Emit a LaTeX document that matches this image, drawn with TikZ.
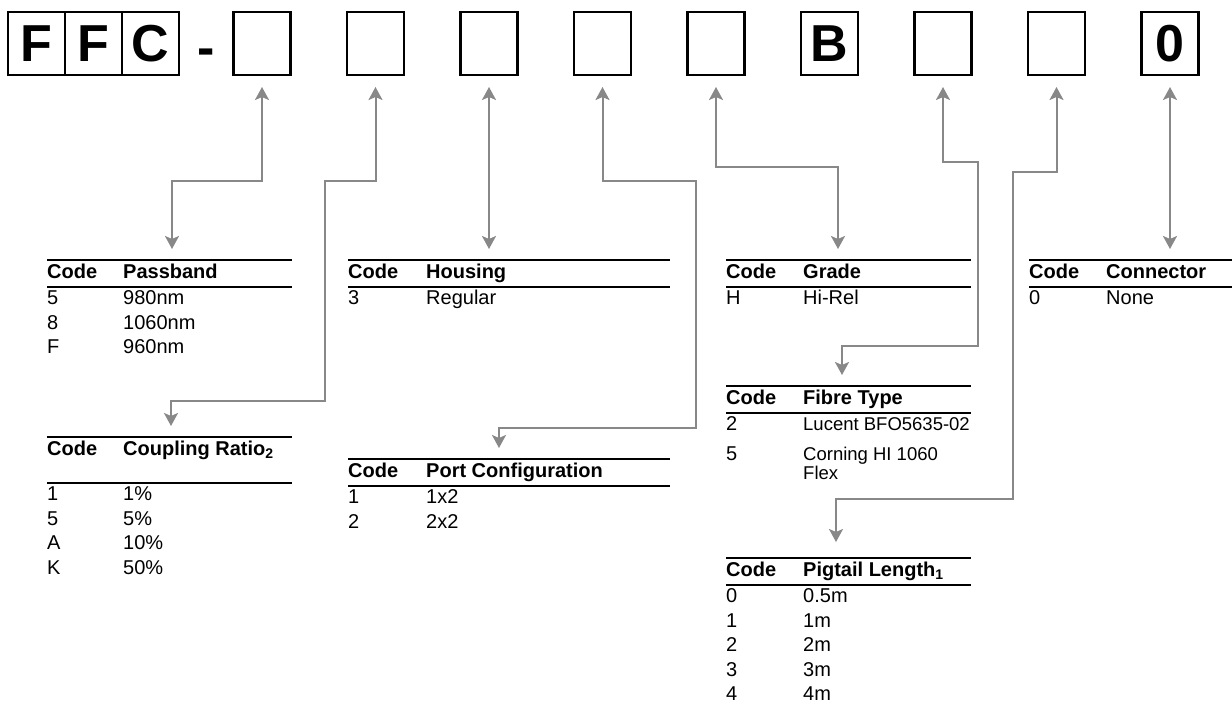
\documentclass[tikz,border=0pt]{standalone}
\usepackage{fontspec}
\setmainfont{Liberation Sans}
\usetikzlibrary{positioning,arrows.meta}
\definecolor{linkgray}{RGB}{136,136,136}
\setlength{\tabcolsep}{0pt}
\newcommand{\tabrule}{\noalign{\hrule height 2pt}}
\begin{document}
\begin{tikzpicture}[x=1pt,y=-1pt]
  \tikzstyle{codebox}=[draw,line width=2.5pt,outer sep=0pt,inner sep=0pt,minimum width=57pt,minimum height=63pt,font=\bfseries\fontsize{52}{52}\selectfont]
  \tikzstyle{codetab}=[anchor=north west,inner sep=0pt,font=\fontsize{20}{24.5}\selectfont]
  \tikzstyle{link}=[draw=linkgray,line width=2pt,>={Stealth[length=13pt,width=14pt,inset=3pt]},<->]
  \useasboundingbox (0,0) rectangle (1232,702);
  \node[codebox] (f1) at (36.5,43.5) {F};
  \node[codebox,right=0pt of f1] (f2) {F};
  \node[codebox,right=0pt of f2] (f3) {C};
  \node[font=\bfseries\fontsize{52}{52}\selectfont] (dash) at (206,57) {-};
  \node[codebox] (b1) at (262,43.5) {};
  \node[codebox,right=56.5pt of b1] (b2) {};
  \node[codebox,right=56.5pt of b2] (b3) {};
  \node[codebox,right=56.5pt of b3] (b4) {};
  \node[codebox,right=56.5pt of b4] (b5) {};
  \node[codebox,right=56.5pt of b5] (b6) {B};
  \node[codebox,right=56.5pt of b6] (b7) {};
  \node[codebox,right=56.5pt of b7] (b8) {};
  \node[codebox,right=56.5pt of b8] (b0) {0};

  \node[codetab] (pass) at (47,259) {\begin{tabular}{p{76pt}p{169pt}}\tabrule
    \textbf{Code} & \textbf{Passband}\\ \tabrule
    5 & 980nm\\
    8 & 1060nm\\
    F & 960nm
  \end{tabular}};
  \node[codetab] (coup) at (47,436) {\begin{tabular}{p{76pt}p{169pt}}\tabrule
    \textbf{Code} & \textbf{Coupling Ratio\textsubscript{2}}\\[19pt] \tabrule
    1 & 1\%\\
    5 & 5\%\\
    A & 10\%\\
    K & 50\%
  \end{tabular}};
  \node[codetab] (hou) at (348,259) {\begin{tabular}{p{78pt}p{244pt}}\tabrule
    \textbf{Code} & \textbf{Housing}\\ \tabrule
    3 & Regular
  \end{tabular}};
  \node[codetab] (port) at (348,458) {\begin{tabular}{p{78pt}p{244pt}}\tabrule
    \textbf{Code} & \textbf{Port Configuration}\\ \tabrule
    1 & 1x2\\
    2 & 2x2
  \end{tabular}};
  \node[codetab] (grade) at (726,259) {\begin{tabular}{p{77pt}p{168pt}}\tabrule
    \textbf{Code} & \textbf{Grade}\\ \tabrule
    H & Hi-Rel
  \end{tabular}};
  \node[codetab] (fibre) at (726,385) {\begin{tabular}{p{77pt}p{168pt}}\tabrule
    \textbf{Code} & \textbf{Fibre Type}\\ \tabrule
    2 & \fontsize{18.5}{19}\selectfont Lucent BFO5635-02\\[5pt]
    5 & \fontsize{18.5}{19}\selectfont Corning HI 1060\newline Flex
  \end{tabular}};
  \node[codetab] (pig) at (726,557) {\begin{tabular}{p{77pt}p{168pt}}\tabrule
    \textbf{Code} & \textbf{Pigtail Length\textsubscript{1}}\\ \tabrule
    0 & 0.5m\\
    1 & 1m\\
    2 & 2m\\
    3 & 3m\\
    4 & 4m
  \end{tabular}};
  \node[codetab] (conn) at (1029,259) {\begin{tabular}{p{77pt}p{126pt}}\tabrule
    \textbf{Code} & \textbf{Connector}\\ \tabrule
    0 & None
  \end{tabular}};

  \draw[link] ([yshift=-12pt]b1.south) |- (172,181) -- ([yshift=10pt]pass.north -| 172,0);
  \draw[link] ([yshift=-12pt]b2.south) |- (325,181) |- (171,401) -- ([yshift=10pt]coup.north -| 171,0);
  \draw[link] ([yshift=-12pt]b3.south) -- ([yshift=10pt]hou.north -| b3);
  \draw[link] ([yshift=-12pt]b4.south) |- (696,181) |- (499,428) -- ([yshift=10pt]port.north -| 499,0);
  \draw[link] ([yshift=-12pt]b5.south) |- (838,167) -- ([yshift=10pt]grade.north -| 838,0);
  \draw[link] ([yshift=-12pt]b7.south) |- (978,162) |- (842,346) -- ([yshift=10pt]fibre.north -| 842,0);
  \draw[link] ([yshift=-12pt]b8.south) |- (1013,172) |- (836,499) -- ([yshift=15pt]pig.north -| 836,0);
  \draw[link] ([yshift=-12pt]b0.south) -- ([yshift=10pt]conn.north -| b0);
\end{tikzpicture}
\end{document}
